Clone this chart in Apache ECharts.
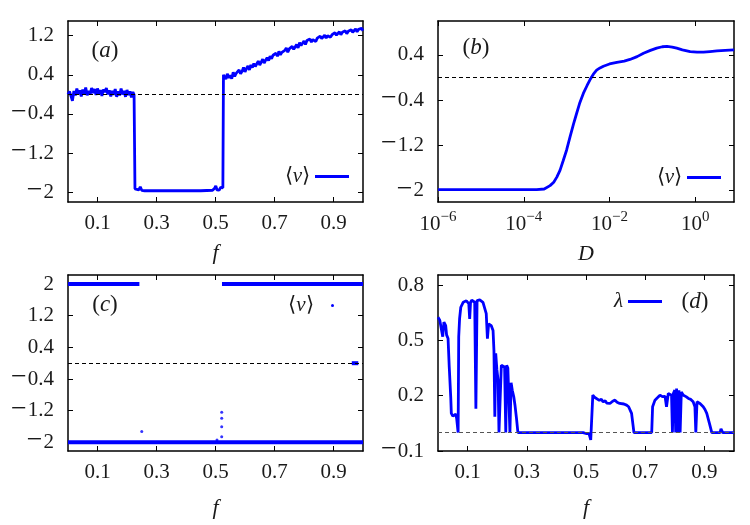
<!DOCTYPE html>
<html>
<head>
<meta charset="utf-8">
<script src="https://cdn.jsdelivr.net/npm/echarts@6/dist/echarts.min.js"></script>
<style>
  html, body { margin: 0; padding: 0; background: #fff; }
  #chart { width: 750px; height: 525px; }
</style>
</head>
<body>
<div id="chart"></div>
<script>
// (a) <v> against f
const aF = [0, 0.005, 0.01, 0.015, 0.02, 0.025, 0.03, 0.035, 0.04, 0.045, 0.05, 0.055, 0.06, 0.065, 0.07, 0.075,
  0.08, 0.085, 0.09, 0.095, 0.1, 0.105, 0.11, 0.115, 0.12, 0.125, 0.13, 0.135, 0.14, 0.145, 0.15, 0.155,
  0.16, 0.165, 0.17, 0.175, 0.18, 0.185, 0.19, 0.195, 0.2, 0.205, 0.21, 0.215, 0.22, 0.224,
  0.227, 0.232, 0.24, 0.245, 0.25, 0.26, 0.3, 0.35, 0.4, 0.45, 0.49, 0.497, 0.501, 0.505, 0.512, 0.518, 0.522, 0.525,
  0.527, 0.53, 0.535, 0.54, 0.545, 0.55, 0.555, 0.56, 0.565, 0.57, 0.575, 0.58, 0.585, 0.59, 0.595, 0.6, 0.605,
  0.61, 0.615, 0.62, 0.625, 0.63, 0.635, 0.64, 0.645, 0.65, 0.655, 0.66, 0.665, 0.67, 0.675, 0.68, 0.685,
  0.69, 0.695, 0.7, 0.705, 0.71, 0.715, 0.72, 0.725, 0.73, 0.735, 0.74, 0.745, 0.75, 0.755, 0.76, 0.765,
  0.77, 0.775, 0.78, 0.785, 0.79, 0.795, 0.8, 0.805, 0.81, 0.815, 0.82, 0.825, 0.83, 0.835, 0.84, 0.845,
  0.85, 0.855, 0.86, 0.865, 0.87, 0.875, 0.88, 0.885, 0.89, 0.895, 0.9, 0.905, 0.91, 0.915, 0.92, 0.925,
  0.93, 0.935, 0.94, 0.945, 0.95, 0.955, 0.96, 0.965, 0.97, 0.975, 0.98, 0.985, 0.99, 0.995, 1.0];
const aV = [0, 0.06, -0.03, -0.13, 0.07, -0.02, 0.12, 0.01, 0.08, -0.04, 0.1, 0.02, 0.14, -0.02, 0.07, 0.0,
  0.13, 0.03, 0.11, -0.01, 0.12, 0.02, 0.09, -0.03, 0.1, 0.05, 0.13, 0.0, 0.08, -0.04, 0.07, -0.01,
  0.11, -0.05, 0.06, -0.02, 0.12, 0.0, 0.07, -0.05, 0.09, -0.01, 0.06, -0.06, 0.05, -0.01,
  -1.93, -1.97, -1.95, -1.89, -1.96, -1.97, -1.97, -1.97, -1.97, -1.97, -1.96, -1.92, -1.87, -1.95, -1.96, -1.9, -1.93, -1.91,
  0.4, 0.36, 0.31, 0.42, 0.34, 0.39, 0.32, 0.45, 0.37, 0.43, 0.41, 0.5, 0.42, 0.47, 0.55, 0.46, 0.53,
  0.58, 0.5, 0.6, 0.55, 0.63, 0.57, 0.61, 0.68, 0.6, 0.66, 0.72, 0.64, 0.7, 0.75, 0.69, 0.78,
  0.73, 0.8, 0.76, 0.84, 0.78, 0.88, 0.81, 0.86, 0.83, 0.9, 0.95, 0.86, 0.93, 0.89, 0.98, 0.92,
  0.97, 1.02, 0.95, 1.06, 1.0, 1.04, 1.09, 1.02, 1.1, 1.06, 1.13, 1.07, 1.12, 1.16, 1.08, 1.15,
  1.11, 1.19, 1.14, 1.17, 1.21, 1.15, 1.2, 1.24, 1.17, 1.22, 1.19, 1.26, 1.21, 1.24, 1.28, 1.22,
  1.27, 1.25, 1.3, 1.24, 1.29, 1.26, 1.32, 1.27, 1.3, 1.34, 1.28, 1.33, 1.29, 1.35, 1.3];

// (b) <v> against D
const bD = [1e-6, 1e-5, 1e-4, 2e-4, 3e-4, 4.1e-4, 5e-4, 5.9e-4, 7e-4, 8.3e-4, 1e-3, 1.2e-3, 1.45e-3, 1.7e-3, 2e-3,
  2.45e-3, 3e-3, 3.5e-3, 4.2e-3, 5e-3, 6e-3, 7.2e-3, 1e-2, 1.48e-2, 2.2e-2, 3e-2, 4.4e-2, 6.2e-2, 9e-2, 0.126,
  0.17, 0.22, 0.29, 0.37, 0.5, 0.76, 1.1, 1.55, 2.2, 3.2, 5, 8];
const bV = [-1.98, -1.98, -1.98, -1.98, -1.97, -1.91, -1.85, -1.76, -1.64, -1.47, -1.28, -1.05, -0.82, -0.64, -0.46,
  -0.28, -0.14, -0.04, 0.06, 0.13, 0.17, 0.2, 0.24, 0.27, 0.29, 0.32, 0.37, 0.43, 0.48, 0.52,
  0.545, 0.55, 0.54, 0.52, 0.49, 0.46, 0.45, 0.45, 0.46, 0.47, 0.48, 0.49];

// (c) <v> per run: solid runs of points and a few stray points
const cRunFrom = [0, 0.522, 0, 0.962];
const cRunTo = [0.242, 1.0, 1.0, 0.984];
const cRunV = [2, 2, -2, 0];
const cDotF = [0.25, 0.505, 0.521, 0.521, 0.521, 0.521];
const cDotV = [-1.73, -1.94, -1.24, -1.39, -1.61, -1.86];

// (d) lambda against f
const dF = [0, 0.006, 0.011, 0.016, 0.02, 0.026, 0.029, 0.034, 0.038, 0.043, 0.045, 0.05, 0.054, 0.06, 0.063, 0.068,
  0.07, 0.073, 0.077, 0.085, 0.09, 0.096, 0.1, 0.104, 0.107, 0.11, 0.114, 0.118, 0.124, 0.128, 0.132, 0.137,
  0.141, 0.146, 0.152, 0.158, 0.163, 0.167, 0.171, 0.176, 0.18, 0.186, 0.189, 0.192, 0.195, 0.199, 0.203, 0.206,
  0.212, 0.214, 0.22, 0.225, 0.229, 0.232, 0.236, 0.239, 0.243, 0.247, 0.251, 0.256, 0.26, 0.265, 0.27,
  0.49, 0.5, 0.51, 0.516, 0.521, 0.523, 0.53, 0.536, 0.545, 0.552, 0.558, 0.565, 0.57, 0.581, 0.59, 0.598,
  0.605, 0.614, 0.62, 0.628, 0.637, 0.644, 0.648, 0.654, 0.662, 0.722, 0.725, 0.733, 0.742, 0.75, 0.758, 0.767,
  0.772, 0.778, 0.784, 0.789, 0.792, 0.795, 0.8, 0.803, 0.806, 0.81, 0.814, 0.818, 0.822, 0.829, 0.838, 0.846,
  0.854, 0.862, 0.868, 0.871, 0.875, 0.88, 0.885, 0.896, 0.902, 0.908, 0.917, 0.925, 0.953, 0.956, 0.962, 1.0];
const dL = [0.626, 0.61, 0.608, 0.52, 0.6, 0.58, 0.53, 0.51, 0.356, 0.194, 0.104, 0.09, 0.086, 0.1, 0.077, 0,
  0.52, 0.62, 0.68, 0.707, 0.7, 0.715, 0.705, 0.7, 0.617, 0.707, 0.718, 0.71, 0.707, 0.13, 0.716, 0.72,
  0.72, 0.71, 0.707, 0.7, 0.645, 0.51, 0.59, 0.585, 0.58, 0.554, 0.446, 0.086, 0.43, 0.34, 0.285, 0,
  0, 0.365, 0.373, 0.356, 0, 0.365, 0.35, 0.34, 0, 0.27, 0.23, 0.194, 0.15, 0.08, 0,
  0, -0.005, -0.005, -0.04, -0.05, 0.203, 0.19, 0.185, 0.175, 0.18, 0.167, 0.172, 0.16, 0.158, 0.17, 0.176,
  0.165, 0.158, 0.165, 0.155, 0.149, 0.14, 0.13, 0.104, 0, 0, 0.14, 0.176, 0.19, 0.203, 0.195, 0.197,
  0.14, 0.212, 0.205, 0.203, 0, 0.212, 0.23, 0, 0.239, 0, 0.23, 0, 0.22, 0.203, 0.195, 0.185,
  0.18, 0.167, 0.14, 0, 0.167, 0.165, 0.158, 0.14, 0.125, 0.104, 0.05, 0, 0, 0.02, 0, 0];

// tick positions
const fTicks = [0.1, 0.3, 0.5, 0.7, 0.9];
const dTicks = [1e-6, 1e-4, 1e-2, 1];
const vTicksA = [-2, -1.2, -0.4, 0.4, 1.2];
const vTicksB = [-2, -1.2, -0.4, 0.4];
const vTicksC = [-2, -1.2, -0.4, 0.4, 1.2, 2];
const lTicks = [-0.1, 0.2, 0.5, 0.8];

const FONT = "'Liberation Serif', serif";
const INK = '#1a1a1a';
const BLUE = '#0000ff';

// numbers with a long math minus, as rich text
function signed(v) {
  return v < 0 ? '{m|\u2212}{n|' + Math.abs(v) + '}' : '{n|' + v + '}';
}
const numRich = {
  m: { fontFamily: FONT, fontSize: 28, color: INK, padding: [0, 1, 3, 0] },
  n: { fontFamily: FONT, fontSize: 21, color: INK }
};
function pow10(v) {
  const e = Math.round(Math.log10(v));
  return '{b|10}{s|' + (e < 0 ? '\u2212' + (-e) : e) + '}';
}

function axis(kind, grid, pos, range, ticks, labels, extra) {
  const a = {
    type: kind,
    gridIndex: grid,
    position: pos,
    min: range[0],
    max: range[1],
    axisLine: { show: true, onZero: false, lineStyle: { color: '#000', width: 1.5 } },
    axisTick: { show: true, inside: true, length: 5, customValues: ticks, lineStyle: { color: '#000', width: 1 } },
    axisLabel: {
      show: labels,
      customValues: ticks,
      margin: (pos === 'left') ? 14 : 11,
      fontFamily: FONT,
      fontSize: 21,
      color: INK,
      formatter: signed,
      rich: numRich
    },
    splitLine: { show: false }
  };
  if (kind === 'log') a.logBase = 10;
  return Object.assign(a, extra || {});
}
function xName(txt, gap) {
  return {
    name: txt, nameLocation: 'middle', nameGap: gap,
    nameTextStyle: { fontFamily: FONT, fontSize: 22, fontStyle: 'italic', color: INK }
  };
}

const fRange = [0, 1];
const dRange = [1e-6, 8];

const xAxes = [
  axis('value', 0, 'bottom', fRange, fTicks, true, xName('f', 40)),
  axis('value', 0, 'top', fRange, fTicks, false),
  axis('log', 1, 'bottom', dRange, dTicks, true, xName('D', 41)),
  axis('log', 1, 'top', dRange, dTicks, false),
  axis('value', 2, 'bottom', fRange, fTicks, true, xName('f', 46)),
  axis('value', 2, 'top', fRange, fTicks, false),
  axis('value', 3, 'bottom', fRange, fTicks, true, xName('f', 46)),
  axis('value', 3, 'top', fRange, fTicks, false)
];
xAxes[2].axisLabel.formatter = pow10;
xAxes[2].axisLabel.margin = 8;
xAxes[2].axisLabel.rich = {
  b: { fontFamily: FONT, fontSize: 21, color: INK, padding: [4, 0, 0, 0] },
  s: { fontFamily: FONT, fontSize: 15, color: INK, verticalAlign: 'top' }
};

const yAxes = [
  axis('value', 0, 'left', [-2.2, 1.5], vTicksA, true),
  axis('value', 0, 'right', [-2.2, 1.5], vTicksA, false),
  axis('value', 1, 'left', [-2.2, 1.0], vTicksB, true),
  axis('value', 1, 'right', [-2.2, 1.0], vTicksB, false),
  axis('value', 2, 'left', [-2.22, 2.23], vTicksC, true),
  axis('value', 2, 'right', [-2.22, 2.23], vTicksC, false),
  axis('value', 3, 'left', [-0.1, 0.855], lTicks, true),
  axis('value', 3, 'right', [-0.1, 0.855], lTicks, false)
];

function zeroLine(color) {
  return {
    silent: true, symbol: 'none', animation: false,
    label: { show: false },
    lineStyle: { type: [4, 3], color: color, width: 1 },
    data: [{ yAxis: 0 }]
  };
}
function curve(name, xi, xs, ys, mark) {
  return {
    name: name, type: 'line', xAxisIndex: xi, yAxisIndex: xi,
    data: xs.map((x, i) => [x, ys[i]]),
    symbol: 'none', showSymbol: false,
    lineStyle: { color: BLUE, width: 2.8 },
    itemStyle: { color: BLUE },
    markLine: mark,
    animation: false, z: 3
  };
}

const series = [
  curve('va', 0, aF, aV, zeroLine('#000')),
  curve('vb', 2, bD, bV, zeroLine('#000')),
  curve('ld', 6, dF, dL, zeroLine('#555'))
];
// (c) runs
cRunFrom.forEach((f0, i) => {
  series.push({
    name: 'vc', type: 'line', xAxisIndex: 4, yAxisIndex: 4,
    data: [[f0, cRunV[i]], [cRunTo[i], cRunV[i]]],
    symbol: 'none', lineStyle: { color: BLUE, width: 4 }, itemStyle: { color: BLUE },
    markLine: i === 0 ? zeroLine('#000') : undefined,
    animation: false, z: 3
  });
});
series.push({
  name: 'vc', type: 'scatter', xAxisIndex: 4, yAxisIndex: 4,
  data: cDotF.map((f, i) => [f, cDotV[i]]),
  symbol: 'circle', symbolSize: 3, itemStyle: { color: BLUE }, animation: false
});

const vRich = {
  r: { fontFamily: FONT, fontSize: 21, color: INK },
  i: { fontFamily: FONT, fontSize: 21, color: INK, fontStyle: 'italic' }
};
function legendFor(name, label, right, top, icon, w, h) {
  return {
    data: [name], right: right, top: top, padding: 0, align: 'right',
    icon: icon, itemWidth: w, itemHeight: h, selectedMode: false,
    itemStyle: { color: BLUE, borderWidth: 0 },
    formatter: () => label,
    textStyle: { rich: vRich }
  };
}
const vLabel = '{r|\u27e8}{i|v}{r|\u27e9}';

function tag(letter, x, y) {
  return {
    type: 'text', x: x, y: y, silent: true,
    style: {
      text: '{p|(}{i|' + letter + '}{p|)}',
      align: 'center', verticalAlign: 'middle',
      rich: {
        p: { fontFamily: FONT, fontSize: 23, fill: INK },
        i: { fontFamily: FONT, fontSize: 23, fill: INK, fontStyle: 'italic' }
      }
    }
  };
}

const chart = echarts.init(document.getElementById('chart'));
chart.setOption({
  backgroundColor: '#fff',
  animation: false,
  grid: [
    { left: 68, top: 21, width: 295, height: 181 },
    { left: 438, top: 21, width: 296, height: 181 },
    { left: 68, top: 275, width: 295, height: 176 },
    { left: 438, top: 275, width: 296, height: 176 }
  ],
  xAxis: xAxes,
  yAxis: yAxes,
  legend: [
    legendFor('va', vLabel, 401, 166, 'rect', 34, 3),
    legendFor('vb', vLabel, 29, 167, 'rect', 34, 3),
    legendFor('vc', vLabel, 416, 295, 'circle', 28, 3),
    legendFor('ld', '{i|\u03bb}', 88, 291, 'rect', 34, 3)
  ],
  graphic: [
    tag('a', 105, 51),
    tag('b', 476, 48),
    tag('c', 105, 305),
    tag('d', 695, 302)
  ],
  series: series
});
</script>
</body>
</html>
